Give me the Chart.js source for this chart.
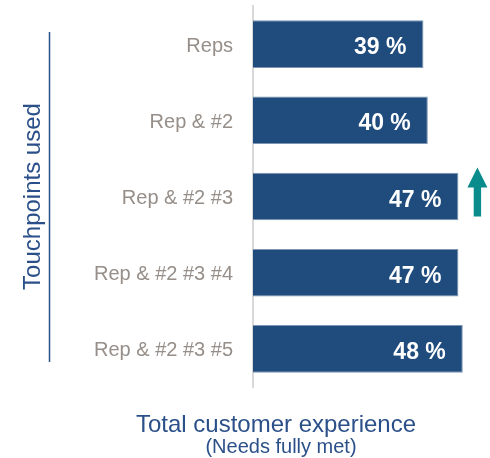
<!DOCTYPE html>
<html>
<head>
<meta charset="utf-8">
<script src="https://cdn.jsdelivr.net/npm/chart.js@4.4.1/dist/chart.umd.min.js"></script>
<style>
  html, body { margin: 0; padding: 0; background: #fff; }
  #wrap { width: 490px; height: 458px; position: relative; }
</style>
</head>
<body>
<div id="wrap"><canvas id="chart"></canvas></div>
<script>
// Chart data
const categories = ['Reps', 'Rep & #2', 'Rep & #2 #3', 'Rep & #2 #3 #4', 'Rep & #2 #3 #5'];
const values = [39, 40, 47, 47, 48];
const yTitle = 'Touchpoints used';
const xTitle = 'Total customer experience';
const xSubtitle = '(Needs fully met)';
const arrowIndex = 2;

const FONT = "'Liberation Sans', Arial, Helvetica, sans-serif";
const BLUE_TEXT = '#2b5089';
const BAR_COLOR = '#1f4b7d';

// Value labels inside the bars
const barLabels = {
    id: 'barLabels',
    afterDatasetsDraw(chart) {
        const ctx = chart.ctx;
        const meta = chart.getDatasetMeta(0);
        ctx.save();
        ctx.fillStyle = '#ffffff';
        ctx.font = 'bold 23px ' + FONT;
        ctx.textAlign = 'right';
        ctx.textBaseline = 'alphabetic';
        meta.data.forEach((bar, i) => {
            ctx.fillText(`${values[i]} %`, bar.x - 17, bar.y + 10);
        });
        ctx.restore();
    }
};

// Teal up arrow next to one bar
const upArrow = {
    id: 'upArrow',
    afterDatasetsDraw(chart) {
        const bar = chart.getDatasetMeta(0).data[arrowIndex];
        if (!bar) return;
        const ctx = chart.ctx;
        const cx = bar.x + 19;
        const top = bar.y - 29;
        const bottom = bar.y + 20;
        const headH = 20, headW = 10, shaft = 3.7;
        ctx.save();
        ctx.fillStyle = '#0a8c8c';
        ctx.beginPath();
        ctx.moveTo(cx, top);
        ctx.lineTo(cx + headW, top + headH);
        ctx.lineTo(cx + shaft, top + headH);
        ctx.lineTo(cx + shaft, bottom);
        ctx.lineTo(cx - shaft, bottom);
        ctx.lineTo(cx - shaft, top + headH);
        ctx.lineTo(cx - headW, top + headH);
        ctx.closePath();
        ctx.fill();
        ctx.restore();
    }
};

// Bottom titles and the rule beside the y title
const decorations = {
    id: 'decorations',
    afterDraw(chart) {
        const ctx = chart.ctx;
        const area = chart.chartArea;
        ctx.save();
        ctx.strokeStyle = BLUE_TEXT;
        ctx.lineWidth = 1.5;
        ctx.beginPath();
        ctx.moveTo(49.5, area.top + 26);
        ctx.lineTo(49.5, area.bottom - 25);
        ctx.stroke();

        ctx.fillStyle = BLUE_TEXT;
        ctx.textAlign = 'center';
        ctx.textBaseline = 'alphabetic';
        ctx.font = '24px ' + FONT;
        ctx.fillText(xTitle, 276, 432);
        ctx.font = '20px ' + FONT;
        ctx.fillText(xSubtitle, 281, 453);
        ctx.restore();
    }
};

const ctx = document.getElementById('chart').getContext('2d');
new Chart(ctx, {
    type: 'bar',
    data: {
        labels: categories,
        datasets: [{
            data: values,
            backgroundColor: BAR_COLOR,
            borderColor: '#7d95b3',
            borderWidth: 1,
            categoryPercentage: 1,
            barPercentage: 0.625
        }]
    },
    options: {
        indexAxis: 'y',
        responsive: true,
        maintainAspectRatio: false,
        animation: false,
        layout: { padding: { left: 0, right: 1, top: 6, bottom: 71 } },
        plugins: {
            legend: { display: false },
            tooltip: { enabled: false }
        },
        scales: {
            x: {
                display: false,
                min: 0,
                max: 54
            },
            y: {
                grid: { display: false, drawTicks: false },
                border: { display: true, color: '#d9d9d9', width: 2 },
                ticks: {
                    color: '#968e88',
                    font: { family: FONT, size: 20 },
                    padding: 20,
                    labelOffset: 2
                },
                title: {
                    display: true,
                    text: yTitle,
                    color: BLUE_TEXT,
                    font: { family: FONT, size: 24 },
                    padding: { top: 19, bottom: 0 }
                },
                afterFit(scale) {
                    scale.width = 253;
                    scale.paddingTop = 0;
                    scale.paddingBottom = 0;
                }
            }
        }
    },
    plugins: [barLabels, upArrow, decorations]
});
</script>
</body>
</html>
